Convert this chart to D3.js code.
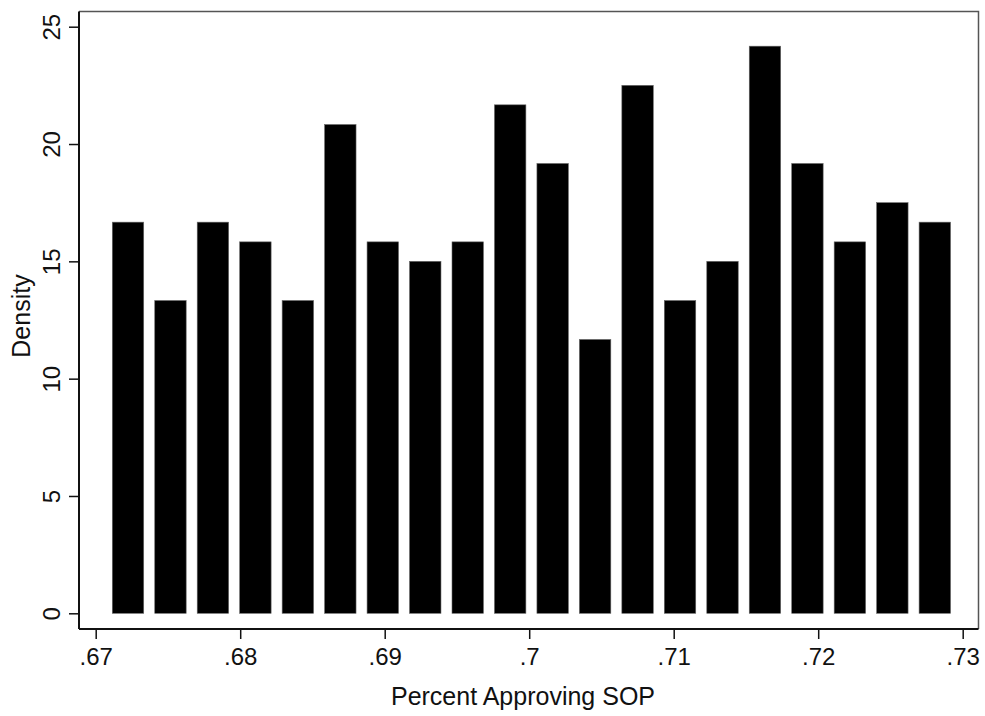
<!DOCTYPE html>
<html>
<head>
<meta charset="utf-8">
<script src="https://cdn.jsdelivr.net/npm/d3@7"></script>
<style>
  body { margin: 0; background: #fff; }
  svg text { font-family: "Liberation Sans", Arial, Helvetica, sans-serif; fill: #111; }
</style>
</head>
<body>
<svg id="chart" width="985" height="716"></svg>
<script>
// histogram bins (left/right edges) and densities
const binEdges = [0.670766, 0.673705, 0.676643, 0.679582, 0.682521, 0.685460, 0.688398,
  0.691337, 0.694276, 0.697214, 0.700153, 0.703092, 0.706030, 0.708969, 0.711908,
  0.714847, 0.717785, 0.720724, 0.723663, 0.726601, 0.729540];
const density = [16.67, 13.33, 16.67, 15.83, 13.33, 20.83, 15.83, 15.00, 15.83, 21.67,
  19.17, 11.67, 22.50, 13.33, 15.00, 24.17, 19.17, 15.83, 17.50, 16.67];
const xTicks = [0.67, 0.68, 0.69, 0.70, 0.71, 0.72, 0.73];
const yTicks = [0, 5, 10, 15, 20, 25];

const svg = d3.select('#chart');

// plot frame
const frameL = 79, frameR = 978.5, frameT = 11.5, frameB = 629;
const barFrac = 0.74; // bars take 74% of bin width

const x = d3.scaleLinear().domain([0.67, 0.73]).range([95.7, 962.7]);
const y = d3.scaleLinear().domain([0, 25]).range([613.3, 26.7]);

// frame top/right
svg.append('path')
    .attr('d', `M${frameL},${frameT}H${frameR}V${frameB}`)
    .attr('fill', 'none')
    .attr('stroke', '#555')
    .attr('stroke-width', 1.5);

// bars
const bins = density.map((d, i) => ({x0: binEdges[i], x1: binEdges[i + 1], v: d}));
svg.append('g')
    .selectAll('rect')
    .data(bins)
    .join('rect')
    .attr('x', d => x(d.x0 + (d.x1 - d.x0) * (1 - barFrac) / 2))
    .attr('width', d => (x(d.x1) - x(d.x0)) * barFrac)
    .attr('y', d => y(d.v))
    .attr('height', d => y(0) - y(d.v))
    .attr('fill', '#000')
    .attr('stroke', '#666')
    .attr('stroke-width', 0.6);

// y axis
const yAxis = svg.append('g')
    .attr('transform', `translate(${frameL},0)`)
    .call(d3.axisLeft(y).tickValues(yTicks).tickSize(10).tickFormat(d3.format('d')));
yAxis.select('.domain').remove();
yAxis.selectAll('.tick line').attr('stroke', '#111').attr('stroke-width', 1.5);
yAxis.selectAll('.tick text')
    .attr('font-size', 24)
    .attr('text-anchor', 'middle')
    .attr('x', 0)
    .attr('y', -19)
    .attr('dy', 0)
    .attr('transform', 'rotate(-90)');

// x axis
const fmtX = d => d3.format('.2~f')(d).replace(/^0/, '');
const xAxis = svg.append('g')
    .attr('transform', `translate(0,${frameB})`)
    .call(d3.axisBottom(x).tickValues(xTicks).tickSize(10).tickPadding(9).tickFormat(fmtX));
xAxis.select('.domain').remove();
xAxis.selectAll('.tick line').attr('stroke', '#111').attr('stroke-width', 1.5);
xAxis.selectAll('.tick text').attr('font-size', 24);

// axis lines
svg.append('line')
    .attr('x1', frameL).attr('x2', frameL).attr('y1', frameT).attr('y2', frameB)
    .attr('stroke', '#111').attr('stroke-width', 2);
svg.append('line')
    .attr('x1', frameL).attr('x2', frameR).attr('y1', frameB).attr('y2', frameB)
    .attr('stroke', '#111').attr('stroke-width', 2);

// titles
svg.append('text')
    .attr('x', 523).attr('y', 705)
    .attr('text-anchor', 'middle')
    .attr('font-size', 25)
    .text('Percent Approving SOP');

svg.append('text')
    .attr('transform', 'translate(30,316) rotate(-90)')
    .attr('text-anchor', 'middle')
    .attr('font-size', 25)
    .text('Density');
</script>
</body>
</html>
